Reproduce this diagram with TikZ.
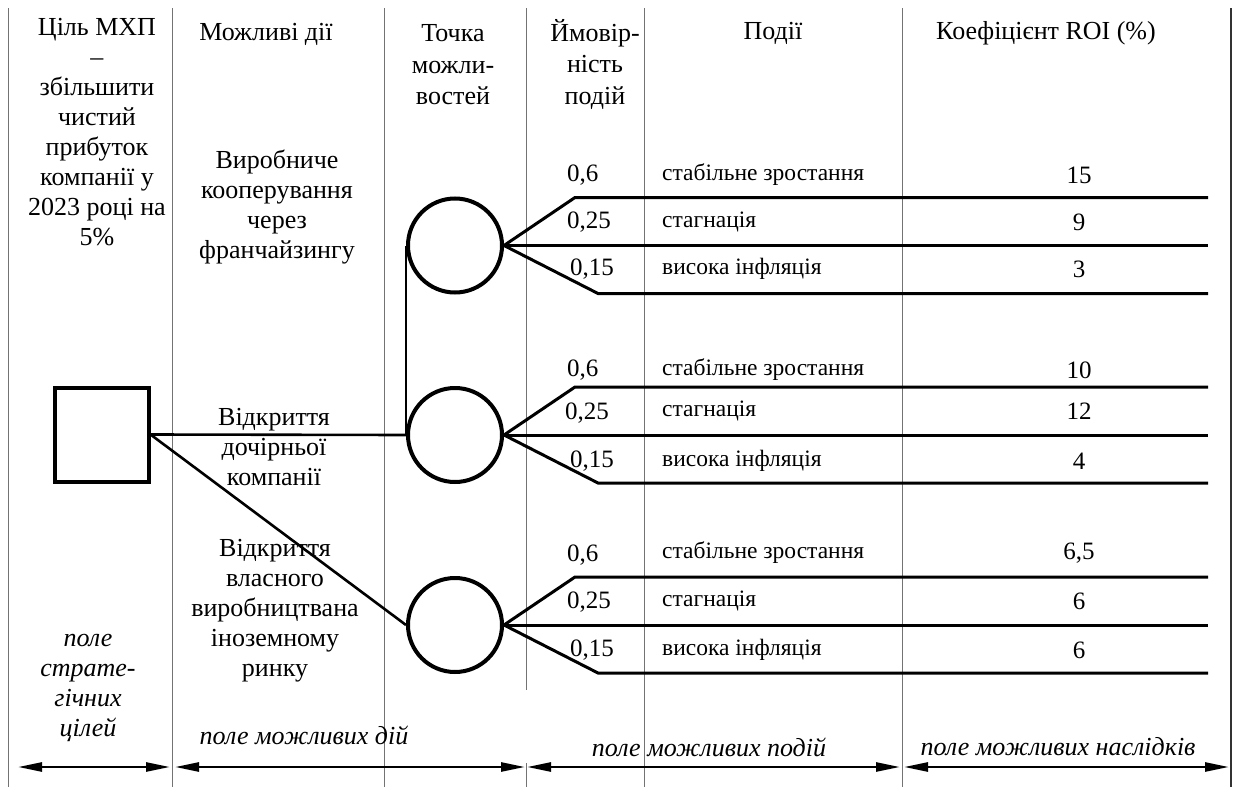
\documentclass[tikz,border=0pt]{standalone}
\usepackage{fontspec}
\setmainfont{Liberation Serif}
\usetikzlibrary{arrows.meta}
\begin{document}
\begin{tikzpicture}[x=1pt,y=-1pt,
  txt/.style={font=\fontsize{26}{30}\selectfont, inner sep=0pt, align=center},
  hdr/.style={font=\fontsize{26}{31.5}\selectfont, inner sep=0pt, align=center},
  small/.style={font=\fontsize{23.5}{30}\selectfont, inner sep=0pt},
  prob/.style={font=\fontsize{25}{30}\selectfont, inner sep=0pt},
  itx/.style={font=\fontsize{26}{30}\selectfont\itshape, inner sep=0pt, align=center},
  colline/.style={draw=black!55, line width=1pt},
  goalbox/.style={draw, rectangle, line width=4pt, minimum size=94pt, inner sep=0pt},
  chance/.style={draw, circle, line width=4pt, minimum size=94pt, inner sep=0pt},
  link/.style={line width=2.6pt},
  branch/.style={line width=3pt},
  fieldarrow/.style={line width=2.6pt, {Triangle[length=24pt,width=9pt]}-{Triangle[length=24pt,width=9pt]}}
]
\useasboundingbox (0,0) rectangle (1235,787);

% column separators
\foreach \x in {8,172,384,644,902} \draw[colline] (\x,8) -- (\x,787);
\draw[colline] (526,8) -- (526,690);
\draw[colline] (526,763) -- (526,787);
\draw[line width=1.4pt, draw=black!80] (1231,8) -- (1231,787);

% headers
\node[txt] (h1) at (97,132.5) {Ціль МХП\\–\\збільшити\\чистий\\прибуток\\компанії у\\2023 році на\\5\%};
\node[txt] (h2) at (266,34) {Можливі дії};
\node[hdr] (h3) at (453,65) {Точка\\можли-\\востей};
\node[hdr] (h4) at (595,64) {Ймовір-\\ність\\подій};
\node[txt] (h5) at (773,33) {Події};
\node[txt] (h6) at (1046,33) {Коефіцієнт ROI (\%)};

% actions
\node[txt] (a1) at (277,206.5) {Виробниче\\кооперування\\через\\франчайзингу};
\node[txt] (a2) at (274,447) {Відкриття\\дочірньої\\компанії};
\node[txt] (a3) at (275,611) {Відкриття\\власного\\виробництвана\\іноземному\\ринку};

% decision node and chance nodes
\node[goalbox] (goal) at (101.5,434.5) {};
\node[chance] (c1) at (455,245.5) {};
\node[chance] (c2) at (455,435) {};
\node[chance] (c3) at (455,625) {};
\coordinate (endx) at (1208,0);

\draw[link] (goal.east) -- (c2.west);
\draw[link] (goal.east) -- (c3.west);
\draw[link] (c1.west) -- (c2.west);

% branches
\foreach \c in {c1,c2,c3}{
  \draw[branch] (\c.east) -- ++(71,-48) coordinate (\c t) -- (\c t -| endx);
  \draw[branch] (\c.east) -- (\c.east -| endx);
  \draw[branch] (\c.east) -- ++(94,48) coordinate (\c b) -- (\c b -| endx);
}

% group 1
\node[prob, anchor=west] (p11) at (567,175) {0,6};
\node[prob, anchor=west] (p12) at (567,222) {0,25};
\node[prob, anchor=west] (p13) at (570,269) {0,15};
\node[small, anchor=west] (e11) at (662,175) {стабільне зростання};
\node[small, anchor=west] (e12) at (662,222) {стагнація};
\node[small, anchor=west] (e13) at (662,269) {висока інфляція};
\node[prob] (r11) at (1079,175) {15};
\node[prob] (r12) at (1079,222) {9};
\node[prob] (r13) at (1079,269) {3};

% group 2
\node[prob, anchor=west] (p21) at (567,370) {0,6};
\node[prob, anchor=west] (p22) at (565,413) {0,25};
\node[prob, anchor=west] (p23) at (570,461) {0,15};
\node[small, anchor=west] (e21) at (662,370) {стабільне зростання};
\node[small, anchor=west] (e22) at (662,411) {стагнація};
\node[small, anchor=west] (e23) at (662,461) {висока інфляція};
\node[prob] (r21) at (1079,370) {10};
\node[prob] (r22) at (1079,411) {12};
\node[prob] (r23) at (1079,461) {4};

% group 3
\node[prob, anchor=west] (p31) at (567,555) {0,6};
\node[prob, anchor=west] (p32) at (567,602) {0,25};
\node[prob, anchor=west] (p33) at (570,650) {0,15};
\node[small, anchor=west] (e31) at (662,553) {стабільне зростання};
\node[small, anchor=west] (e32) at (662,601) {стагнація};
\node[small, anchor=west] (e33) at (662,650) {висока інфляція};
\node[prob] (r31) at (1079,553) {6,5};
\node[prob] (r32) at (1079,601) {6};
\node[prob] (r33) at (1079,650) {6};

% field labels
\node[itx] (f1) at (88,688) {поле\\страте-\\гічних\\цілей};
\node[itx] (f2) at (304,735) {поле можливих дій};
\node[itx] (f3) at (709,747) {поле можливих подій};
\node[itx] (f4) at (1058,747) {поле можливих наслідків};

% field arrows
\coordinate (a1l) at (18,767); \coordinate (a1r) at (170,767);
\coordinate (a2l) at (175,767); \coordinate (a2r) at (525,767);
\coordinate (a3l) at (527,767); \coordinate (a3r) at (900,767);
\coordinate (a4l) at (904,767); \coordinate (a4r) at (1229,767);
\draw[fieldarrow] (a1l) -- (a1r);
\draw[fieldarrow] (a2l) -- (a2r);
\draw[fieldarrow] (a3l) -- (a3r);
\draw[fieldarrow] (a4l) -- (a4r);
\end{tikzpicture}
\end{document}
